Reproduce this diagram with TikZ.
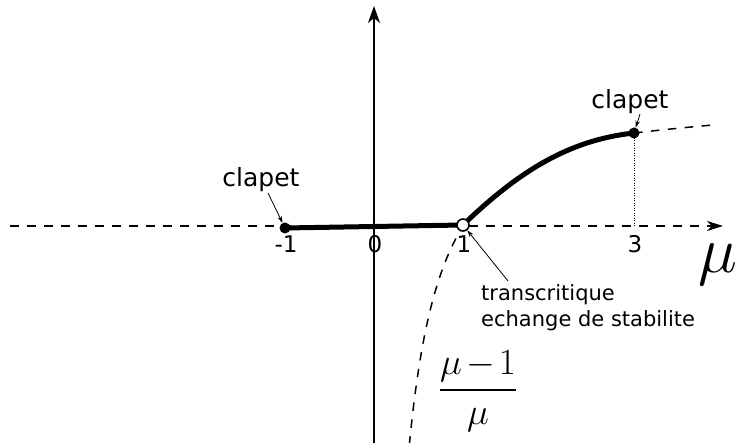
\RequirePackage{fix-cm}
\documentclass[tikz,border=0pt]{standalone}
\usepackage{fontspec}
\setmainfont{DejaVu Sans}
\usetikzlibrary{arrows.meta}
\begin{document}
\begin{tikzpicture}[x=1pt,y=-1pt,
  axis/.style={line width=2pt},
  dsh/.style={dash pattern=on 8.5pt off 8.5pt},
  branch/.style={line width=5pt},
  lbl/.style={font=\fontsize{25}{29}\selectfont, inner sep=0pt},
  tick/.style={font=\fontsize{23}{26}\selectfont, inner sep=0pt, anchor=base},
  note/.style={font=\fontsize{21}{26.5}\selectfont, align=left, inner sep=0pt},
  ptr/.style={line width=0.8pt, -{Stealth[length=7pt,width=4.5pt]}},
  dotf/.style={circle, fill=black, minimum size=11pt, inner sep=0pt},
  doto/.style={circle, draw=black, fill=white, line width=1.6pt, minimum size=12pt, inner sep=0pt}]
\useasboundingbox (0,0) rectangle (740,443);
% axes
\coordinate (xs) at (10,226);
\coordinate (xe) at (723,226);
\coordinate (ys) at (374,443);
\coordinate (ye) at (374,6);
\draw[axis,dsh,-{Stealth[length=16pt,width=10pt,inset=5pt]}] (xs) -- (xe);
\draw[axis,-{Stealth[length=17pt,width=12pt,inset=5pt]}] (ys) -- (ye);
% dashed curve (mu-1)/mu below
\draw[line width=1.5pt,dsh] plot[domain=0.397:1,samples=60,smooth] ({374+89*\x},{226-144*(\x-1)/\x});
% key points
\coordinate (c1) at (285,228);
\coordinate (c2) at (463,225);
\coordinate (c3) at (634,133);
\coordinate (c4) at (713,125);
\coordinate (c3b) at (634,226);
% dotted vertical
\draw[line width=0.6pt,dash pattern=on 1pt off 1.5pt] (c3) -- (c3b);
% dashed continuation
\draw[line width=1.5pt,dsh] (c3) .. controls (660,130) and (690,127) .. (c4);
% thick branches
\draw[branch] (c1) -- (c2);
\draw[branch] (c2) .. controls (520,170) and (570,140) .. (c3);
% dots
\node[dotf] (m1) at (c1) {};
\node[dotf] (p3) at (c3) {};
\node[doto] (p1) at (c2) {};
% tick labels
\node[tick] (tm1) at (286,253) {-1};
\node[tick] (t0) at (375,253) {0};
\node[tick] (t1) at (464,253) {1};
\node[tick] (t3) at (635,253) {3};
% axis label
\node[inner sep=0pt,font=\fontsize{66}{66}\selectfont] (mu) at (718,265) {$\mu$};
% clapet labels
\node[lbl] (cl1) at (261,180) {clapet};
\node[lbl] (cl2) at (630,102) {clapet};
\coordinate (a1) at (268,193);
\coordinate (a2) at (640,114);
\draw[ptr] (a1) -- (m1);
\draw[ptr] (a2) -- (p3);
% transcritique
\node[note,anchor=north west] (tr) at (481,284) {transcritique\\echange de stabilite};
\coordinate (a3) at (508,281);
\draw[ptr] (a3) -- (p1);
% fraction
\node[inner sep=0pt,font=\fontsize{37}{40}\selectfont] (fr) at (478,391) {$\displaystyle{\mu\mkern-2mu-\mkern-2mu1\above 2.5pt\mu}$};
\end{tikzpicture}
\end{document}
